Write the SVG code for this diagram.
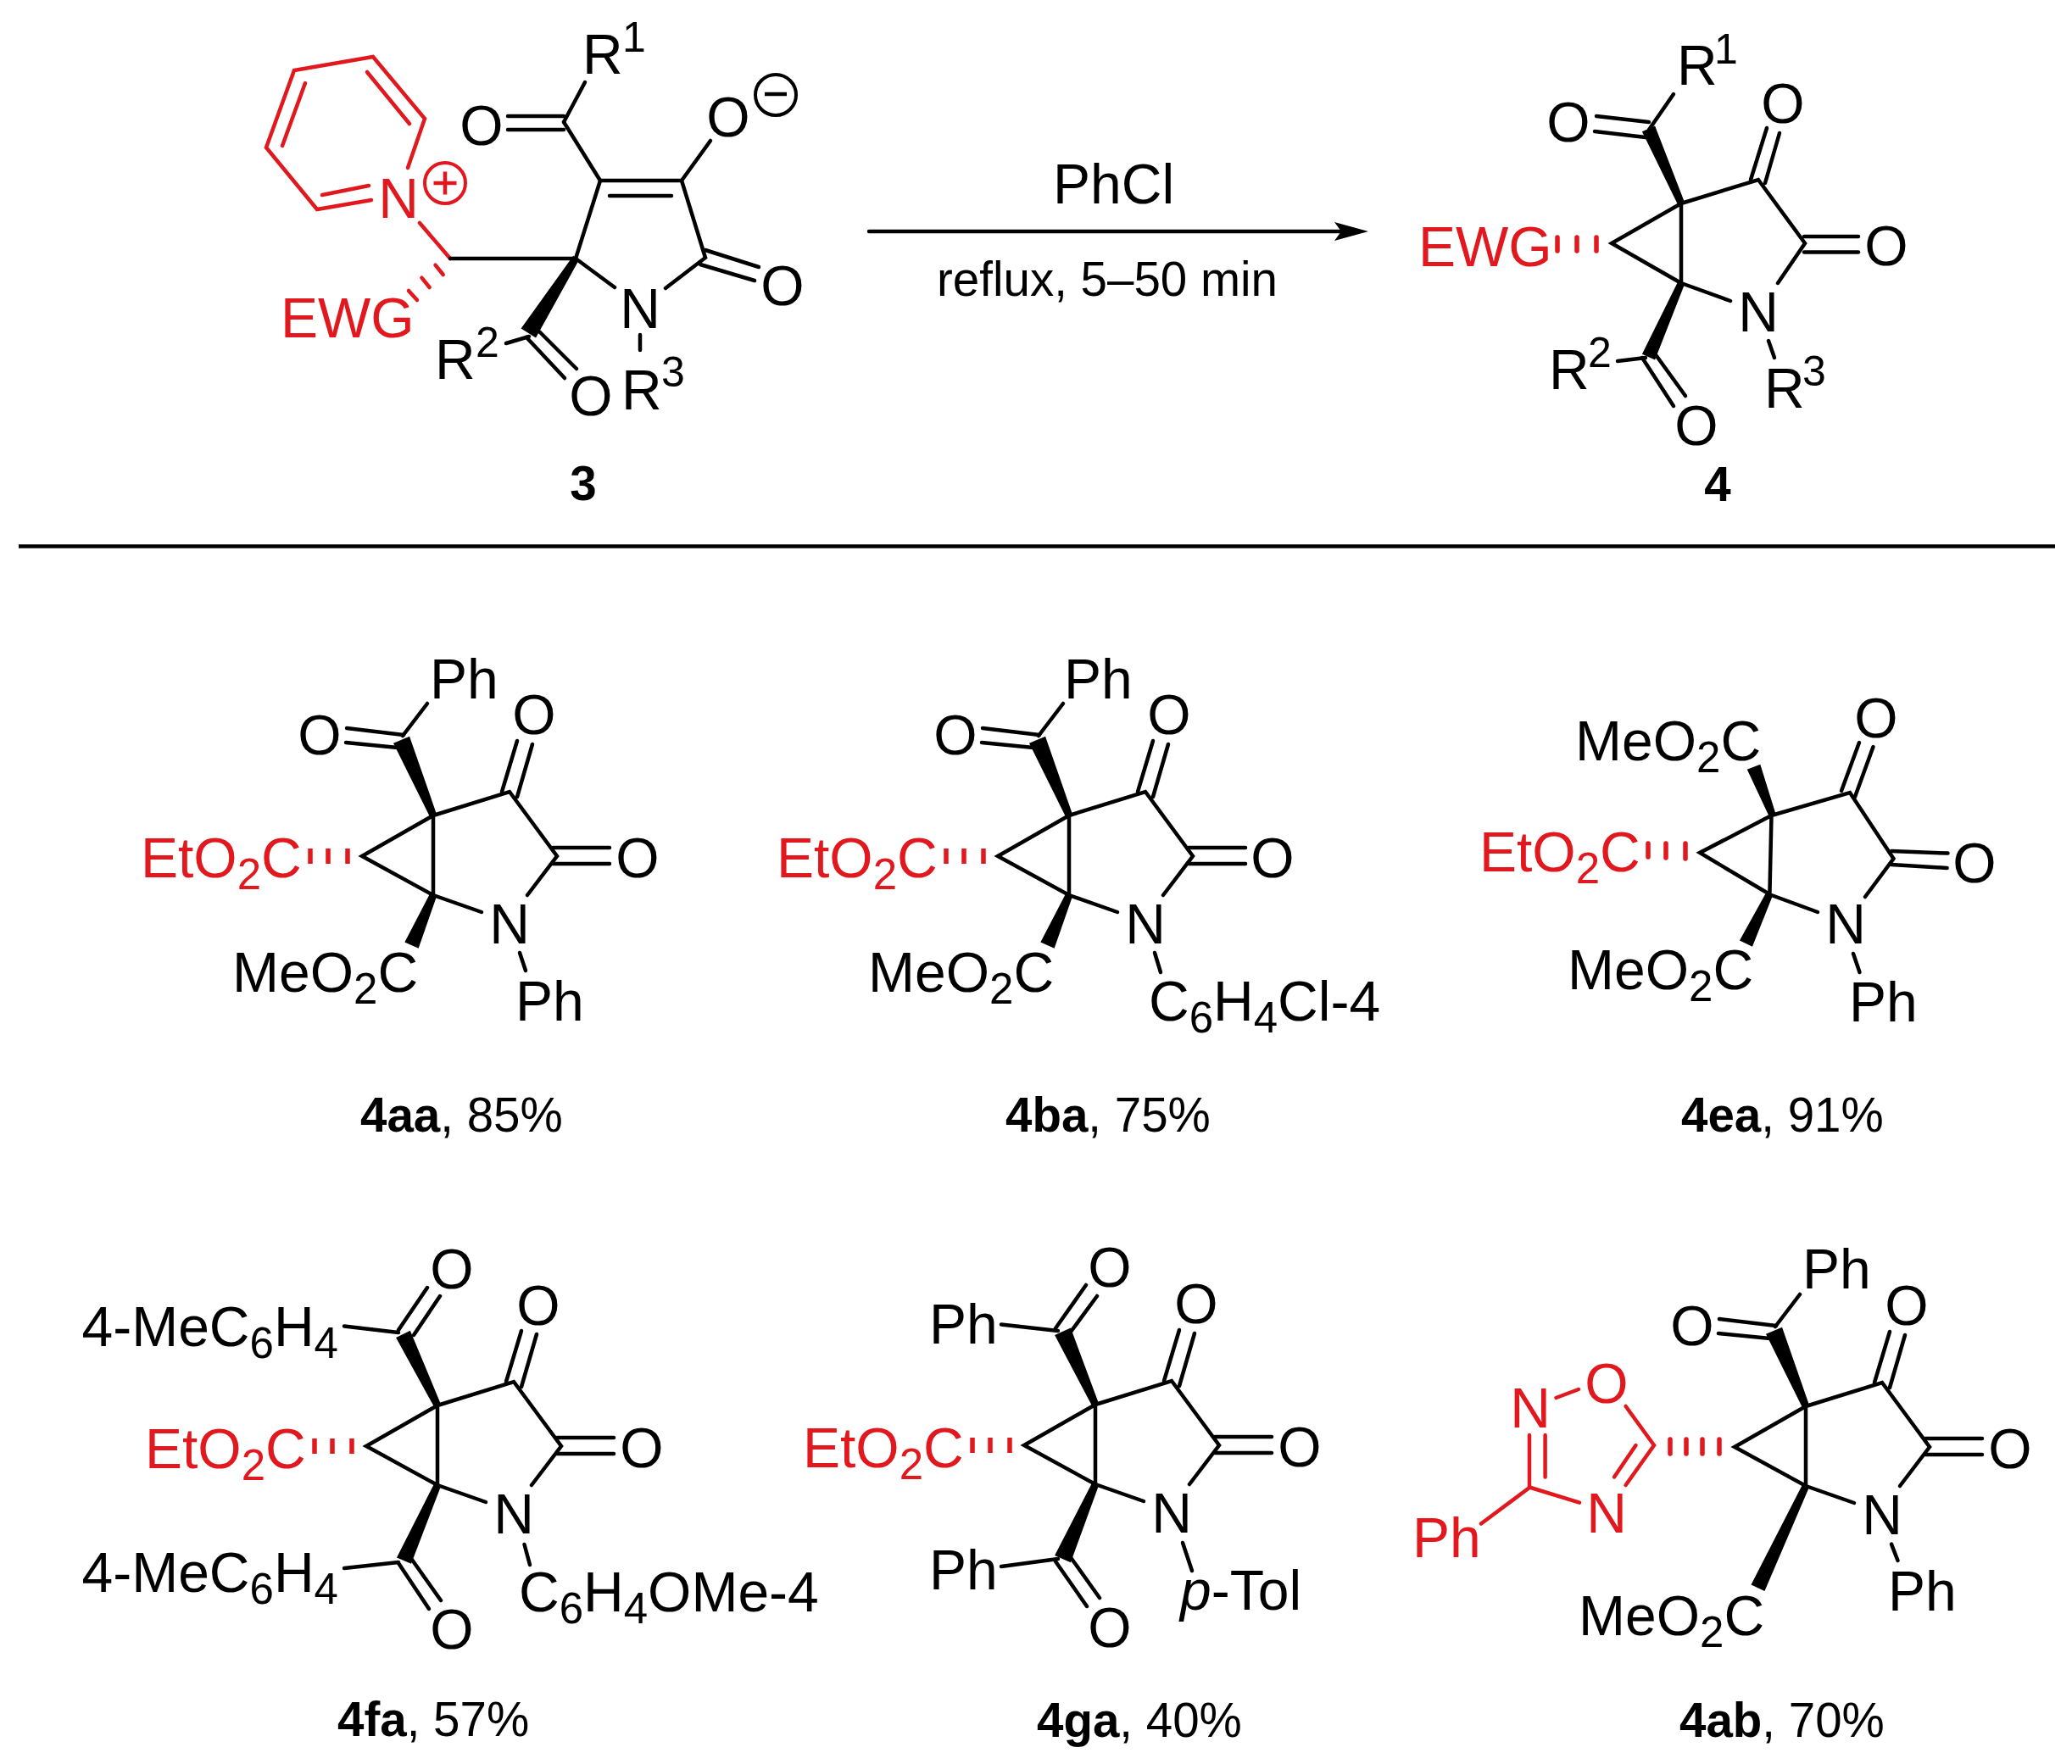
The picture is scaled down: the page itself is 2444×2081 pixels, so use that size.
<svg xmlns="http://www.w3.org/2000/svg" width="2444" height="2081" viewBox="0 0 2444 2081">
<style>
text{font-family:"Liberation Sans",Arial,sans-serif;fill:#000}
.a{font-size:66px}
.m{text-anchor:middle}
.u{font-size:50px;text-anchor:middle}
.s{font-size:51px}
.l{font-size:56.5px}
.b{font-weight:bold}
.i{font-style:italic}
.rt{fill:#E1181D}
.k line,.k polyline{stroke:#000;stroke-width:4.5;stroke-linecap:round;fill:none}
.r line,.r polyline{stroke:#E1181D;stroke-width:4.5;stroke-linecap:round;fill:none}
.h line{stroke:#E1181D;stroke-width:5.5}
polygon.w{fill:#000;stroke:#000;stroke-width:2.5}
</style>
<defs>
<marker id="ah" markerUnits="userSpaceOnUse" markerWidth="40" markerHeight="24" viewBox="0 0 40 24" refX="8" refY="12" orient="auto"><path d="M40 12 L0 1 L8 12 L0 23 Z" fill="#000"/></marker>
<g id="core" class="k">
<polyline points="511,962 427,1010 511,1056 511,962 601,934 657,1010 622,1056"/>
<line x1="511" y1="1056" x2="568" y2="1076"/>
<line x1="592" y1="934" x2="610" y2="874"/>
<line x1="610" y1="940" x2="628" y2="878"/>
<line x1="652" y1="1000" x2="719" y2="1000"/>
<line x1="652" y1="1019" x2="719" y2="1019"/>
</g>
<g id="hash" class="h"><line x1="366" y1="1001" x2="366" y2="1019"/><line x1="387" y1="1001" x2="387" y2="1019"/><line x1="410" y1="1001" x2="410" y2="1019"/></g>
<g id="benzoyl" class="k">
<polygon class="w" points="513.8,960.8 482.3,870.5 465.7,877.5 508.2,963.2"/>
<line x1="475" y1="868" x2="504" y2="830"/>
<line x1="409" y1="859" x2="476" y2="867"/>
<line x1="408" y1="876" x2="469" y2="882"/>
</g>
</defs>

<g id="connectors">
<g id="bonds-3">
<g class="r">
<polyline points="481,198 501,140 440,67 347,83 314,174 374,247 438,236"/>
<line x1="433" y1="85" x2="483" y2="146"/>
<line x1="360" y1="98" x2="333" y2="172"/>
<line x1="380" y1="230" x2="435" y2="219"/>
<line x1="495" y1="263" x2="531" y2="305"/>
<line x1="513.5" y1="312.7" x2="522.7" y2="324"/>
<line x1="497.4" y1="327.7" x2="506.6" y2="339"/>
<line x1="482" y1="343" x2="492" y2="354"/>
</g>
<g class="k">
<line x1="531" y1="305" x2="679" y2="305"/>
<polyline points="725,339 679,305 708,213 804,213 832,304 785,340"/>
<line x1="719" y1="231" x2="792" y2="231"/>
<line x1="832" y1="295" x2="895" y2="315"/>
<line x1="826" y1="312" x2="890" y2="331"/>
<line x1="755" y1="395" x2="755" y2="413"/>
<line x1="804" y1="213" x2="838" y2="166"/>
<line x1="708" y1="213" x2="665" y2="144"/>
<line x1="665" y1="144" x2="690" y2="97"/>
<line x1="599" y1="137" x2="665" y2="137"/>
<line x1="599" y1="153" x2="665" y2="153"/>
<polygon class="w" points="681.5,306.6 631.6,396.8 616.4,387.2 676.5,303.4"/>
<line x1="621" y1="398" x2="666" y2="446"/>
<line x1="637" y1="392" x2="680" y2="435"/>
<line x1="624" y1="397" x2="597" y2="405"/>
</g>
</g>
<g id="bonds-reaction" class="k">
<line x1="1025" y1="273" x2="1582" y2="273" marker-end="url(#ah)"/>
<line x1="22" y1="644.5" x2="2424" y2="644.5" style="stroke-linecap:butt"/>
</g>
<g id="bonds-4" class="k">
<polyline points="1983,240 1901,287 1983,334 1983,240 2074,212 2129,287 2097,334"/>
<line x1="1983" y1="334" x2="2041" y2="355"/>
<line x1="2065" y1="212" x2="2084" y2="151"/>
<line x1="2082" y1="216" x2="2099" y2="157"/>
<line x1="2128" y1="279" x2="2192" y2="279"/>
<line x1="2128" y1="297.5" x2="2192" y2="297.5"/>
<line x1="2086" y1="402" x2="2093" y2="422"/>
<polygon class="w" points="1985.7,238.8 1951.4,150.2 1938.6,155.8 1980.3,241.2"/>
<polygon class="w" points="1985.7,335.2 1951.4,422.8 1938.6,417.2 1980.3,332.8"/>
<line x1="1945" y1="153" x2="1974" y2="111"/>
<line x1="1883" y1="137" x2="1945" y2="144"/>
<line x1="1881" y1="155" x2="1941" y2="162"/>
<line x1="1908" y1="426" x2="1941" y2="422"/>
<line x1="1937" y1="422" x2="1974" y2="479"/>
<line x1="1954" y1="420" x2="1988" y2="467"/>
<g class="h"><line x1="1837" y1="280" x2="1837" y2="296"/><line x1="1860" y1="280" x2="1860" y2="296"/><line x1="1883" y1="280" x2="1883" y2="296"/></g>
</g>
<g id="bonds-4aa" class="k">
<use href="#core"/><use href="#benzoyl"/><use href="#hash"/>
<polygon class="w" points="513.8,1057.2 492.9,1117 479.1,1111 508.2,1054.8"/>
<line x1="613" y1="1124" x2="620" y2="1145"/>
</g>
<g id="bonds-4ba" class="k" transform="translate(750,0)">
<use href="#core"/><use href="#benzoyl"/><use href="#hash"/>
<polygon class="w" points="513.8,1057.2 492.9,1117 479.1,1111 508.2,1054.8"/>
<line x1="612" y1="1124" x2="619" y2="1147"/>
</g>
<g id="bonds-4ea" class="k">
<polyline points="2089.5,962 2005,1006 2087.4,1055 2089.5,962 2182,935 2233.5,1013 2200,1058"/>
<line x1="2089.5" y1="1056" x2="2144" y2="1076"/>
<line x1="2172" y1="933" x2="2193" y2="876"/>
<line x1="2188" y1="940" x2="2209.5" y2="881"/>
<line x1="2231" y1="1004" x2="2297.5" y2="1006.6"/>
<line x1="2231" y1="1020" x2="2296.6" y2="1024"/>
<line x1="2186" y1="1125" x2="2193.5" y2="1147"/>
<polygon class="w" points="2092.8,958.9 2075.5,903.5 2062.5,908.5 2087.2,961.1"/>
<polygon class="w" points="2089.7,1056.3 2066.3,1115 2053.7,1109 2084.3,1053.7"/>
<g class="h"><line x1="1944" y1="995" x2="1944" y2="1011"/><line x1="1965" y1="995" x2="1965" y2="1012"/><line x1="1988" y1="995" x2="1988" y2="1013"/></g>
</g>
<g id="bonds-4fa" class="k">
<g transform="translate(5,696)"><use href="#core"/><use href="#hash"/></g>
<polygon class="w" points="518.7,1656.7 483.2,1571.5 468.8,1578.5 513.3,1659.3"/>
<polygon class="w" points="518.7,1753.2 484.3,1843.2 469.7,1836.8 513.3,1750.8"/>
<line x1="470" y1="1569" x2="504" y2="1519"/>
<line x1="488" y1="1575" x2="519" y2="1529"/>
<line x1="406" y1="1564.5" x2="470" y2="1572"/>
<line x1="406" y1="1850" x2="470" y2="1843"/>
<line x1="470" y1="1844" x2="506" y2="1898"/>
<line x1="486" y1="1840" x2="520" y2="1888"/>
<line x1="618.5" y1="1822" x2="625" y2="1846"/>
</g>
<g id="bonds-4ga" class="k">
<g transform="translate(781,695)"><use href="#core"/><use href="#hash"/></g>
<polygon class="w" points="1294.7,1655.8 1262.2,1568.3 1245.8,1575.7 1289.3,1658.2"/>
<polygon class="w" points="1294.7,1752.2 1262.2,1841.6 1245.8,1834.4 1289.3,1749.8"/>
<line x1="1181" y1="1562.5" x2="1248" y2="1570"/>
<line x1="1245" y1="1567" x2="1281" y2="1516"/>
<line x1="1262" y1="1572.5" x2="1294" y2="1529"/>
<line x1="1181" y1="1848" x2="1248" y2="1839"/>
<line x1="1245" y1="1842" x2="1282" y2="1895"/>
<line x1="1262" y1="1836" x2="1297" y2="1885"/>
<line x1="1395" y1="1820" x2="1406" y2="1853"/>
</g>
<g id="bonds-4ab">
<g class="k">
<g transform="translate(1619,697)"><use href="#core"/><use href="#benzoyl"/></g>
<polygon class="w" points="2132.7,1754.3 2080.8,1875.2 2067.2,1868.8 2127.3,1751.7"/>
<line x1="2231" y1="1821.6" x2="2238.5" y2="1841"/>
</g>
<g class="r">
<polyline points="1917.6,1659 1951,1705 1917.6,1752"/>
<line x1="1929.5" y1="1705" x2="1904" y2="1742.5"/>
<polyline points="1863,1772.6 1804,1754.5 1804,1693"/>
<line x1="1822.6" y1="1742.5" x2="1822.6" y2="1693"/>
<line x1="1835.5" y1="1649" x2="1862" y2="1639"/>
<line x1="1804" y1="1755" x2="1747" y2="1797.5"/>
<g class="h"><line x1="1970" y1="1698" x2="1970" y2="1715"/><line x1="1989" y1="1698" x2="1989" y2="1715"/><line x1="2008" y1="1698" x2="2008" y2="1715"/><line x1="2028" y1="1698" x2="2028" y2="1715"/></g>
</g>
</g>
</g>

<g id="mol-3">
<text class="a rt m" x="470" y="257">N</text>
<circle cx="525" cy="216" r="24" fill="none" stroke="#E1181D" stroke-width="4"/>
<path d="M511.5 216H538.5M525 202.5V229.5" stroke="#E1181D" stroke-width="4.5" fill="none"/>
<text class="a rt" x="331" y="398">EWG</text>
<text class="a" x="687" y="87">R</text><text class="u" x="748" y="61">1</text>
<text class="a m" x="568" y="170.5">O</text>
<text class="a m" x="859" y="161">O</text>
<circle cx="915" cy="112" r="24" fill="none" stroke="#000" stroke-width="4"/>
<path d="M902 111H928" stroke="#000" stroke-width="4.5" fill="none"/>
<text class="a m" x="923" y="360">O</text>
<text class="a m" x="755" y="387">N</text>
<text class="a m" x="697" y="489.5">O</text>
<text class="a" x="733" y="483">R</text><text class="u" x="794" y="456">3</text>
<text class="a" x="513" y="447">R</text><text class="u" x="575" y="421">2</text>
<text class="l b m" x="688" y="590">3</text>
</g>
<g id="reagents">
<text class="a" x="1242" y="240">PhCl</text>
<text class="l" x="1105" y="348.6">reflux, 5–50 min</text>
</g>
<g id="mol-4">
<text class="a" x="1978" y="100">R</text><text class="u" x="2036" y="75">1</text>
<text class="a m" x="1850" y="167">O</text>
<text class="a m" x="2103" y="144.5">O</text>
<text class="a m" x="2225" y="313">O</text>
<text class="a m" x="2074" y="391">N</text>
<text class="a rt" x="1673" y="314">EWG</text>
<text class="a" x="2081" y="481">R</text><text class="u" x="2140" y="455">3</text>
<text class="a" x="1827" y="459">R</text><text class="u" x="1887" y="433">2</text>
<text class="a m" x="2001" y="525">O</text>
<text class="l b m" x="2026" y="591">4</text>
</g>
<g id="mol-4aa">
<text class="a" x="507" y="824">Ph</text>
<text class="a m" x="377" y="890">O</text>
<text class="a m" x="630" y="866">O</text>
<text class="a m" x="752" y="1034.6">O</text>
<text class="a m" x="601" y="1112.5">N</text>
<text class="a" x="608" y="1204">Ph</text>
<text class="a rt" x="166" y="1034.6">EtO<tspan class="s rt" dy="14">2</tspan><tspan dy="-14">C</tspan></text>
<text class="a" x="274" y="1170">MeO<tspan class="s" dy="14">2</tspan><tspan dy="-14">C</tspan></text>
<text class="l" x="425" y="1335"><tspan class="b">4aa</tspan>, 85%</text>
</g>
<g id="mol-4ba">
<text class="a" x="1255" y="824">Ph</text>
<text class="a m" x="1127" y="890">O</text>
<text class="a m" x="1379" y="866">O</text>
<text class="a m" x="1501" y="1034.6">O</text>
<text class="a m" x="1351" y="1112.5">N</text>
<text class="a" x="1355" y="1203.5">C<tspan class="s" dy="14">6</tspan><tspan dy="-14">H</tspan><tspan class="s" dy="14">4</tspan><tspan dy="-14">Cl-4</tspan></text>
<text class="a rt" x="916" y="1034.6">EtO<tspan class="s rt" dy="14">2</tspan><tspan dy="-14">C</tspan></text>
<text class="a" x="1024" y="1170">MeO<tspan class="s" dy="14">2</tspan><tspan dy="-14">C</tspan></text>
<text class="l" x="1186" y="1335"><tspan class="b">4ba</tspan>, 75%</text>
</g>
<g id="mol-4ea">
<text class="a" x="1858" y="897">MeO<tspan class="s" dy="14">2</tspan><tspan dy="-14">C</tspan></text>
<text class="a m" x="2213" y="870">O</text>
<text class="a m" x="2329" y="1041">O</text>
<text class="a m" x="2177" y="1113">N</text>
<text class="a" x="2181" y="1205">Ph</text>
<text class="a rt" x="1745" y="1028">EtO<tspan class="s rt" dy="14">2</tspan><tspan dy="-14">C</tspan></text>
<text class="a" x="1849" y="1167">MeO<tspan class="s" dy="14">2</tspan><tspan dy="-14">C</tspan></text>
<text class="l" x="1983" y="1335"><tspan class="b">4ea</tspan>, 91%</text>
</g>
<g id="mol-4fa">
<text class="a" x="96.5" y="1588">4-MeC<tspan class="s" dy="14">6</tspan><tspan dy="-14">H</tspan><tspan class="s" dy="14">4</tspan></text>
<text class="a m" x="533" y="1520">O</text>
<text class="a m" x="635" y="1563">O</text>
<text class="a m" x="757" y="1731">O</text>
<text class="a m" x="606" y="1809">N</text>
<text class="a rt" x="171" y="1732">EtO<tspan class="s rt" dy="14">2</tspan><tspan dy="-14">C</tspan></text>
<text class="a" x="96.5" y="1878">4-MeC<tspan class="s" dy="14">6</tspan><tspan dy="-14">H</tspan><tspan class="s" dy="14">4</tspan></text>
<text class="a m" x="533" y="1945">O</text>
<text class="a" x="612" y="1901">C<tspan class="s" dy="14">6</tspan><tspan dy="-14">H</tspan><tspan class="s" dy="14">4</tspan><tspan dy="-14">OMe-4</tspan></text>
<text class="l" x="398" y="2048"><tspan class="b">4fa</tspan>, 57%</text>
</g>
<g id="mol-4ga">
<text class="a" x="1096" y="1584.6">Ph</text>
<text class="a m" x="1309" y="1517.5">O</text>
<text class="a m" x="1411" y="1561">O</text>
<text class="a m" x="1533" y="1729.6">O</text>
<text class="a m" x="1382" y="1807.5">N</text>
<text class="a rt" x="947" y="1730.6">EtO<tspan class="s rt" dy="14">2</tspan><tspan dy="-14">C</tspan></text>
<text class="a" x="1096" y="1875">Ph</text>
<text class="a m" x="1309" y="1943">O</text>
<text class="a" x="1392" y="1899"><tspan class="i">p</tspan>-Tol</text>
<text class="l" x="1223" y="2049"><tspan class="b">4ga</tspan>, 40%</text>
</g>
<g id="mol-4ab">
<text class="a" x="2126" y="1520">Ph</text>
<text class="a m" x="1996" y="1587">O</text>
<text class="a m" x="2249" y="1563">O</text>
<text class="a m" x="2371" y="1731.6">O</text>
<text class="a m" x="2220" y="1809.5">N</text>
<text class="a" x="2227" y="1900">Ph</text>
<text class="a rt m" x="1895" y="1655">O</text>
<text class="a rt m" x="1805" y="1684">N</text>
<text class="a rt m" x="1895" y="1808">N</text>
<text class="a rt" x="1666" y="1836.5">Ph</text>
<text class="a" x="1862" y="1929">MeO<tspan class="s" dy="14">2</tspan><tspan dy="-14">C</tspan></text>
<text class="l" x="1981" y="2048.6"><tspan class="b">4ab</tspan>, 70%</text>
</g>
</svg>
